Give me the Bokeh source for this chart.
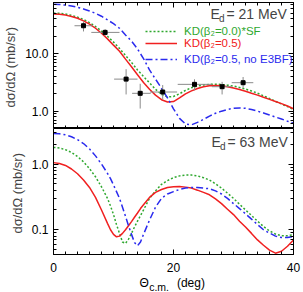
from bokeh.plotting import figure
from bokeh.models import (LinearAxis, LogAxis, FixedTicker, SingleIntervalTicker,
                          PrintfTickFormatter, CustomJSTickFormatter, Legend, LegendItem, Label)
from bokeh.core.properties import value
from bokeh.layouts import column
from bokeh.embed import file_html
from bokeh.resources import INLINE

FONT = "Liberation Sans"
GREEN = "#2fa82f"
RED = "#f02020"
BLUE = "#2a2aee"

# ---------------- data: E_d = 21 MeV (top) ----------------
top_theta = list(range(0, 41))
top_green = [50.5, 50, 48.5, 46, 43, 39, 34.5, 29.5, 24.5, 20, 15.8, 12.3, 9.3, 7.0, 5.2,
             4.0, 3.1, 2.4, 1.95, 1.76, 1.8, 2.0, 2.3, 2.55, 2.72, 2.85, 2.92, 2.94, 2.9,
             2.83, 2.73, 2.58, 2.42, 2.24, 2.05, 1.85, 1.66, 1.48, 1.33, 1.2, 1.07]
top_red = [48.5, 48, 46.5, 44, 41, 37, 32.5, 27.5, 22.5, 18, 14, 11, 8, 5.9, 4.3,
           3.15, 2.4, 1.9, 1.58, 1.44, 1.47, 1.7, 2.0, 2.25, 2.47, 2.65, 2.77, 2.8, 2.75,
           2.65, 2.53, 2.38, 2.22, 2.05, 1.9, 1.74, 1.6, 1.47, 1.35, 1.23, 1.1]
top_blue = [72, 71, 69.5, 67, 63.5, 59.5, 55, 50, 44.5, 38.5, 33, 27.5, 21, 16.5, 12,
            8.2, 5.2, 3.6, 2.5, 1.7, 1.1, 0.75, 0.6, 0.58, 0.64, 0.72, 0.82, 0.92, 1.0,
            1.07, 1.12, 1.14, 1.12, 1.07, 1.0, 0.93, 0.86, 0.79, 0.73, 0.67, 0.62]

exp_theta = [5.0, 8.6, 12.1, 14.45, 18.2, 23.5, 28.1, 31.6]
exp_sigma = [30.4, 23.3, 3.6, 2.04, 2.15, 2.92, 2.66, 3.12]
exp_theta_lo = [3.5, 6.3, 10.1, 13.1, 16.1, 20.7, 26.4, 29.7]
exp_theta_hi = [6.5, 11.0, 14.0, 16.2, 20.6, 26.4, 29.7, 33.3]
exp_sigma_lo = [24.2, 20.4, 1.95, 1.11, 1.60, 2.30, 1.95, 2.55]
exp_sigma_hi = [36.1, 26.7, 5.35, 2.99, 2.84, 3.57, 3.23, 3.92]

# ---------------- data: E_d = 63 MeV (bottom) ----------------
bot_theta = [0, 1, 2, 3, 4, 5, 6, 7, 8, 9, 9.5, 10, 10.5, 11, 11.5, 12, 12.5, 13, 13.5,
             14, 14.5, 15, 16, 17, 18, 19, 20, 21, 22, 23, 24, 25, 26, 27, 28, 29, 30,
             31, 32, 33, 34, 35, 36, 37, 38, 39, 40]
bot_green = [1.79, 1.75, 1.65, 1.5, 1.3, 1.08, 0.85, 0.64, 0.45, 0.3, 0.23, 0.17, 0.12,
             0.088, 0.065, 0.062, 0.072, 0.088, 0.11, 0.135, 0.165, 0.2, 0.3, 0.39, 0.49,
             0.56, 0.62, 0.66, 0.68, 0.68, 0.66, 0.62, 0.57, 0.5, 0.43, 0.36, 0.30, 0.245,
             0.2, 0.165, 0.135, 0.112, 0.096, 0.086, 0.081, 0.081, 0.084]
bot_red = [1.05, 1.02, 0.95, 0.84, 0.71, 0.57, 0.44, 0.31, 0.20, 0.125, 0.1, 0.085, 0.078,
           0.08, 0.088, 0.1, 0.115, 0.133, 0.155, 0.18, 0.21, 0.24, 0.31, 0.37, 0.41, 0.44,
           0.45, 0.455, 0.445, 0.43, 0.40, 0.37, 0.34, 0.295, 0.25, 0.205, 0.17, 0.135,
           0.11, 0.088, 0.07, 0.058, 0.049, 0.044, 0.047, 0.056, 0.07]
bot_blue = [2.92, 2.88, 2.78, 2.6, 2.35, 2.05, 1.7, 1.33, 1.0, 0.72, 0.6, 0.48, 0.38, 0.3,
            0.22, 0.16, 0.115, 0.085, 0.064, 0.057, 0.065, 0.085, 0.14, 0.22, 0.3, 0.35,
            0.38, 0.41, 0.43, 0.44, 0.44, 0.43, 0.42, 0.39, 0.35, 0.3, 0.25, 0.21, 0.175,
            0.145, 0.12, 0.1, 0.089, 0.08, 0.076, 0.076, 0.079]

legend_labels = ["KD(β₂=0.0)*SF", "KD(β₂=0.5)", "KD(β₂=0.5, no E3BF)"]
x_ticks_interval = 20
y_label = "dσ/dΩ  (mb/sr)"
top_major = [1, 10]
top_minor = [0.5, 0.6, 0.7, 0.8, 0.9, 2, 3, 4, 5, 6, 7, 8, 9, 20, 30, 40, 50, 60, 70]
bot_major = [0.1, 1]
bot_minor = [0.05, 0.06, 0.07, 0.08, 0.09, 0.2, 0.3, 0.4, 0.5, 0.6, 0.7, 0.8, 0.9, 2, 3]


def style_axis(ax, labels=True, font_size="12px"):
    ax.major_tick_in = 5
    ax.major_tick_out = 0
    ax.minor_tick_in = 3
    ax.minor_tick_out = 0
    ax.axis_line_color = "black"
    ax.major_tick_line_color = "black"
    ax.minor_tick_line_color = "black"
    ax.major_label_text_font = FONT
    ax.axis_label_text_font = FONT
    ax.axis_label_text_font_style = "normal"
    if labels:
        ax.major_label_text_font_size = font_size
        ax.major_label_text_color = "black"
    else:
        ax.formatter = CustomJSTickFormatter(code="return ''")
        ax.major_label_text_font_size = "1px"
        ax.major_label_standoff = 0


def make_panel(height, y_range, major, minor, min_border_top, min_border_bottom,
               show_x_labels, above_axis):
    p = figure(width=303, height=height, x_range=(0, 40), y_range=y_range,
               y_axis_type="log", output_backend="svg", toolbar_location=None,
               min_border_left=53, min_border_right=10, min_border_top=min_border_top,
               min_border_bottom=min_border_bottom)
    p.grid.visible = False
    p.outline_line_color = "black"
    p.outline_line_width = 1
    p.background_fill_color = "white"
    p.border_fill_color = "white"

    p.xaxis.ticker = SingleIntervalTicker(interval=x_ticks_interval, num_minor_ticks=10)
    style_axis(p.xaxis[0], labels=show_x_labels)
    if show_x_labels:
        p.xaxis.major_label_standoff = 8

    p.yaxis.ticker = FixedTicker(ticks=major, minor_ticks=minor)
    p.yaxis.formatter = PrintfTickFormatter(format="%.1f")
    style_axis(p.yaxis[0])
    p.yaxis.major_label_standoff = 5
    p.yaxis.axis_label = y_label
    p.yaxis.axis_label_text_font_size = "13px"
    p.yaxis.axis_label_standoff = 4

    ra = LogAxis(ticker=FixedTicker(ticks=major, minor_ticks=minor))
    style_axis(ra, labels=False)
    p.add_layout(ra, "right")
    if above_axis:
        ta = LinearAxis(ticker=SingleIntervalTicker(interval=x_ticks_interval, num_minor_ticks=10))
        style_axis(ta, labels=False)
        p.add_layout(ta, "above")
    return p


def add_title(p, x, y, sub_text, rest, size):
    p.add_layout(Label(x=x, y=y, x_units="screen", y_units="screen", text="E",
                       text_font=FONT, text_font_size=size, text_baseline="middle"))
    p.add_layout(Label(x=x + 8.5, y=y - 4, x_units="screen", y_units="screen", text=sub_text,
                       text_font=FONT, text_font_size="10px", text_baseline="middle"))
    p.add_layout(Label(x=x + 16, y=y, x_units="screen", y_units="screen", text=rest,
                       text_font=FONT, text_font_size=size, text_baseline="middle"))


# ---------------- top panel (frame y 2..128) ----------------
p1 = make_panel(128, (0.5, 77), top_major, top_minor, 2, 0, False, True)
r1g = p1.line(top_theta, top_green, line_color=GREEN, line_width=1.5, line_dash="2 2")
r1r = p1.line(top_theta, top_red, line_color=RED, line_width=1.5)
r1b = p1.line(top_theta, top_blue, line_color=BLUE, line_width=1.5, line_dash="7 3 2 3")
p1.segment(exp_theta_lo, exp_sigma, exp_theta_hi, exp_sigma, line_color="#8a8a8a", line_width=1)
p1.segment(exp_theta, exp_sigma_lo, exp_theta, exp_sigma_hi, line_color="#8a8a8a", line_width=1)
p1.scatter(exp_theta, exp_sigma, marker="square", size=4, color="black")

for rend, lab, col, yb in zip([r1g, r1r, r1b], legend_labels, [GREEN, RED, BLUE],
                              [91.3, 78.7, 63]):
    leg = Legend(items=[LegendItem(label=lab, renderers=[rend])], location=(92, yb),
                 glyph_width=32, glyph_height=10, label_standoff=7, padding=0, margin=0,
                 spacing=0, label_height=12, label_text_font=FONT,
                 label_text_font_size="11.5px", label_text_color=col,
                 border_line_color=None, background_fill_alpha=0)
    p1.add_layout(leg)

add_title(p1, 157, 114.5, "d", "= 21 MeV", "14px")

# ---------------- bottom panel (frame y 128..254) ----------------
p2 = make_panel(148, (0.042, 3.47), bot_major, bot_minor, 0, 22, True, False)
p2.line(bot_theta, bot_green, line_color=GREEN, line_width=1.5, line_dash="2 2")
p2.line(bot_theta, bot_red, line_color=RED, line_width=1.5)
p2.line(bot_theta, bot_blue, line_color=BLUE, line_width=1.5, line_dash="7 3 2 3")
add_title(p2, 158, 112.5, "d", "= 63 MeV", "14px")

# ---------------- x-axis title strip (y 276..292) ----------------
p3 = figure(width=303, height=16, x_range=(0, 40), y_range=(0, 1), output_backend="svg",
            toolbar_location=None, min_border_left=53, min_border_right=10,
            min_border_top=0, min_border_bottom=0)
p3.axis.visible = False
p3.grid.visible = False
p3.outline_line_color = None
p3.text(x=[14.33], y=[0.6], text=["Θ"], text_font=value(FONT), text_font_size="12px",
        text_baseline="middle", text_align="left", text_color="black")
p3.text(x=[15.95], y=[0.34], text=["c.m."], text_font=value(FONT), text_font_size="10.5px",
        text_baseline="middle", text_align="left", text_color="black")
p3.text(x=[20.57], y=[0.58], text=["(deg)"], text_font=value(FONT), text_font_size="12px",
        text_baseline="middle", text_align="left", text_color="black")

layout = column(p1, p2, p3, spacing=0)
open("out.html", "w").write(file_html(layout, INLINE))
